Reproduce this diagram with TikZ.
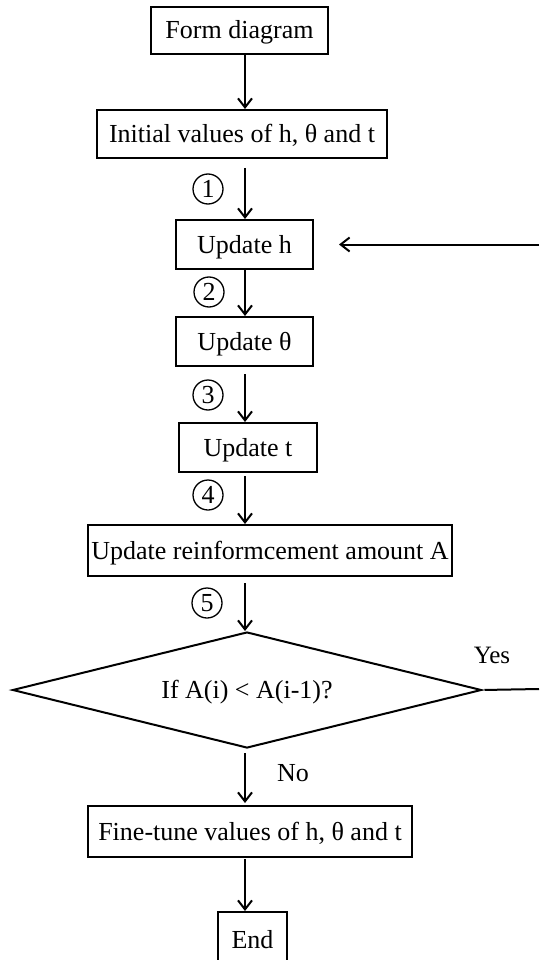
\documentclass[tikz,border=0pt]{standalone}
\usepackage{fontspec}
\setmainfont{Liberation Serif}
\usetikzlibrary{shapes.geometric,arrows.meta}
\begin{document}
\begin{tikzpicture}[x=1pt,y=-1pt,
  box/.style={draw,line width=2pt,inner sep=0pt,text height=17pt,text depth=0pt,font=\fontsize{26}{30}\selectfont},
  arr/.style={line width=2pt,-{Straight Barb[length=9pt,width=14pt,line width=2pt]}},
  ln/.style={line width=2pt},
  num/.style={draw,circle,line width=1.3pt,inner sep=0pt,minimum size=30pt,font=\fontsize{26}{28}\selectfont},
  lbl/.style={font=\fontsize{26}{30}\selectfont}]
\useasboundingbox (0,0) rectangle (539,960);
\node[box,minimum width=177pt,minimum height=47pt] (form) at (239.5,30.5) {Form diagram};
\node[box,minimum width=290pt,minimum height=48pt] (init) at (242,134) {Initial values of h, θ and t};
\node[box,minimum width=137pt,minimum height=49pt] (uh) at (244.5,244.5) {Update h};
\node[box,minimum width=137pt,minimum height=49pt] (uth) at (244.5,341.5) {Update θ};
\node[box,minimum width=138pt,minimum height=49pt] (ut) at (248,447.5) {Update t};
\node[box,minimum width=364pt,minimum height=51pt] (ura) at (270,550.5) {Update reinformcement amount A};
\node[box,diamond,aspect=4,minimum width=469pt,minimum height=116pt] (dia) at (247,690) {If A(i) < A(i-1)?};
\node[box,minimum width=324pt,minimum height=51pt] (fine) at (250,831.5) {Fine-tune values of h, θ and t};
\node[box,minimum width=69pt,minimum height=56pt] (end) at (252.5,940) {End};

\node[num] (n1) at (208,189) {1};
\node[num] (n2) at (209,292) {2};
\node[num] (n3) at (208,395) {3};
\node[num] (n4) at (208,495) {4};
\node[num] (n5) at (207,603) {5};
\node[lbl,font=\fontsize{25}{28}\selectfont] (yes) at (492,655) {Yes};
\node[lbl] (no) at (293,773) {No};

\coordinate (ax) at (245,0);
\coordinate (fb) at (539,244.5);
\coordinate (yend) at (539,689);

\draw[arr] (form.south -| ax) -- (init.north -| ax);
\draw[arr,shorten <=9pt] (init.south -| ax) -- (uh.north -| ax);
\draw[arr] (uh.south -| ax) -- (uth.north -| ax);
\draw[arr,shorten <=7pt] (uth.south -| ax) -- (ut.north -| ax);
\draw[arr,shorten <=3pt] (ut.south -| ax) -- (ura.north -| ax);
\draw[arr,shorten <=6pt] (ura.south -| ax) -- (dia.north -| ax);
\draw[arr,shorten <=4pt,shorten >=2pt] (dia.south -| ax) -- (fine.north -| ax);
\draw[arr,shorten <=1pt] (fine.south -| ax) -- (end.north -| ax);
\draw[ln,shorten <=2pt] (dia.east) -- (yend);
\draw[arr,shorten >=25pt] (fb) -- (uh.east);
\end{tikzpicture}
\end{document}
